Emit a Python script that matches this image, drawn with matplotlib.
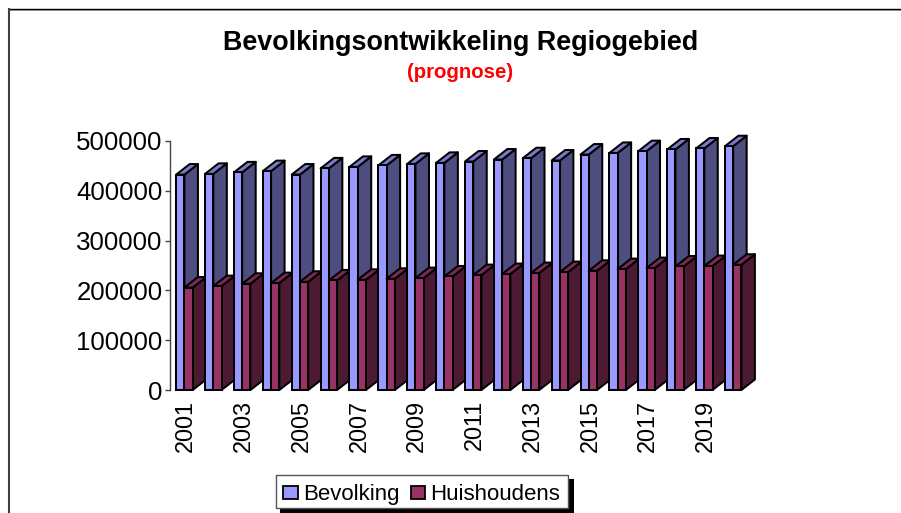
import matplotlib
matplotlib.use('Agg')
import matplotlib.pyplot as plt
from matplotlib.lines import Line2D
from matplotlib.patches import Rectangle
from matplotlib.transforms import ScaledTranslation

plt.rcParams['font.family'] = ['Liberation Sans', 'DejaVu Sans']

years = list(range(2001, 2021))
bevolking = [432600, 434000, 437000, 439500, 432600, 445000, 448000, 451000,
             454100, 456100, 458800, 462800, 465400, 460800, 472800,
             476000, 479600, 483000, 485000, 489500]
huishoudens = [205800, 208600, 213300, 214700, 217300, 220000, 221300, 223300,
               224700, 228000, 230800, 232800, 234800, 236800, 239400,
               242800, 244800, 248000, 248900, 251500]
y_ticks = [0, 100000, 200000, 300000, 400000, 500000]
legend_labels = ['Bevolking', 'Huishoudens']

W, H = 901, 513
fig = plt.figure(figsize=(W / 100, H / 100), dpi=100)
ax = fig.add_axes([170 / W, (H - 390) / H, 577.6 / W, 249 / H])
ax.set_xlim(-0.5, 19.5)
ax.set_ylim(0, 500000)

# 3d look: depth offset of the bars, given in pixels
dx = 13.5 / 28.88
dy = 10.5 / 249 * 500000
bar_w = 0.285
lw = 1.45

series = [
    (bevolking, -bar_w / 2, '#9999FF', '#4D4D80', '#7A7ACC'),
    (huishoudens, bar_w / 2, '#993366', '#4D1A33', '#7A2952'),
]

z = 3
for i in range(len(years)):
    for vals, off, front, side, top in series:
        v = vals[i]
        l = i + off - bar_w / 2
        r = i + off + bar_w / 2
        ax.fill([r, r + dx, r + dx, r], [0, dy, v + dy, v], fc=side, ec='k',
                lw=lw, zorder=z, clip_on=False, joinstyle='round')
        ax.fill([l, l + dx, r + dx, r], [v, v + dy, v + dy, v], fc=top, ec='k',
                lw=lw, zorder=z, clip_on=False, joinstyle='round')
        ax.bar(i + off, v, bar_w, color=front, edgecolor='k', linewidth=lw,
               zorder=z + 0.5, clip_on=False)
        z += 1

for s in ['top', 'right', 'bottom']:
    ax.spines[s].set_visible(False)
ax.spines['left'].set_color('#444444')
ax.spines['left'].set_linewidth(1.0)

ax.set_yticks(y_ticks)
ax.set_yticklabels([str(t) for t in y_ticks], fontsize=18.6)
ax.tick_params(axis='y', length=3.5, width=1.0, color='#444444', pad=1.8)
ax.set_xticks(range(0, 20, 2))
ax.set_xticklabels([str(y) for y in years[::2]], rotation=90, fontsize=16.9)
ax.tick_params(axis='x', length=0, pad=7)
shift = ScaledTranslation(1.2 / 100, 0, fig.dpi_scale_trans)
for t in ax.get_xticklabels():
    t.set_transform(t.get_transform() + shift)

fig.text(461 / W, 1 - 42.5 / H, 'Bevolkingsontwikkeling Regiogebied', ha='center',
         va='center', fontsize=19.4, fontweight='bold')
fig.text(460.5 / W, 1 - 73 / H, '(prognose)', ha='center', va='center',
         fontsize=14.7, fontweight='bold', color='#FF0000')

# legend drawn by hand so both labels share one baseline
def fig_rect(x0, y0, x1, y1, **kw):
    fig.add_artist(Rectangle((x0 / W, 1 - y1 / H), (x1 - x0) / W, (y1 - y0) / H,
                             transform=fig.transFigure, **kw))

fig_rect(280, 479, 574, 513, fc='k', ec='none')
fig_rect(276, 474.5, 568, 508, fc='w', ec='#555555', lw=1.0)
fig_rect(283, 486, 297.5, 499, fc=series[0][2], ec='k', lw=1.3)
fig_rect(410.5, 486, 425, 499, fc=series[1][2], ec='k', lw=1.3)
fig.text(303 / W, 1 - 499.9 / H, legend_labels[0], fontsize=16, va='baseline')
fig.text(430 / W, 1 - 499.5 / H, legend_labels[1], fontsize=16, va='baseline')

# chart area border, only top and left fall inside the picture
fig.add_artist(Line2D([9 / W, 1], [1 - 8.5 / H, 1 - 8.5 / H], color='k', lw=1.0))
fig.add_artist(Line2D([9 / W, 1], [1 - 9.5 / H, 1 - 9.5 / H], color='#888888', lw=0.7))
fig.add_artist(Line2D([9 / W, 9 / W], [0, 1 - 8.5 / H], color='#404040', lw=1.5))

fig.savefig('out.png', dpi=100)
